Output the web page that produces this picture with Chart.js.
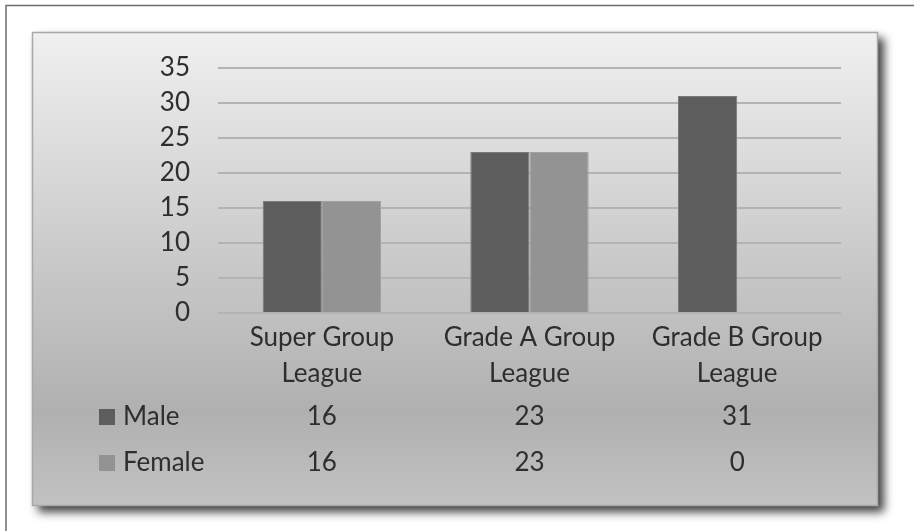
<!DOCTYPE html>
<html>
<head>
<meta charset="utf-8">
<script src="https://cdn.jsdelivr.net/npm/chart.js@4.4.1/dist/chart.umd.min.js"></script>
<style>
  html, body { margin: 0; padding: 0; background: #fff; }
  #wrap { width: 914px; height: 531px; position: relative; }
</style>
</head>
<body>
<div id="wrap"><canvas id="chart"></canvas></div>
<script>
const categories = [['Super Group', 'League'], ['Grade A Group', 'League'], ['Grade B Group', 'League']];
const seriesNames = ['Male', 'Female'];
const maleValues = [16, 23, 31];
const femaleValues = [16, 23, 0];
const yTicks = [0, 5, 10, 15, 20, 25, 30, 35];

const maleColor = '#5d5d5d';
const femaleColor = '#939393';
const textColor = '#2e2e2e';
const fontFamily = 'Lato, "Open Sans", sans-serif';

// panel, shadow and gradient behind the chart
const panelBackground = {
    id: 'panelBackground',
    beforeDraw(chart) {
        const ctx = chart.ctx;
        ctx.save();
        // outer frame (top and left only)
        ctx.strokeStyle = '#6e6e6e';
        ctx.lineWidth = 1.5;
        ctx.beginPath();
        ctx.moveTo(6, 531);
        ctx.lineTo(6, 5.5);
        ctx.lineTo(914, 5.5);
        ctx.stroke();

        const x = 32, y = 32, w = 846, h = 474;
        ctx.shadowColor = 'rgba(0,0,0,0.75)';
        ctx.shadowBlur = 9;
        ctx.shadowOffsetX = 6;
        ctx.shadowOffsetY = 6;
        const g = ctx.createLinearGradient(0, y, 0, y + h);
        g.addColorStop(0, '#f0f0f0');
        g.addColorStop(0.35, '#d4d4d4');
        g.addColorStop(0.8, '#b0b0b0');
        g.addColorStop(1, '#c2c2c2');
        ctx.fillStyle = g;
        ctx.fillRect(x, y, w, h);
        ctx.shadowColor = 'transparent';
        ctx.strokeStyle = '#a8a8a8';
        ctx.lineWidth = 1.5;
        ctx.strokeRect(x + 0.5, y + 0.5, w - 1, h - 1);
        ctx.restore();
    }
};

// data table under the category labels
const dataTable = {
    id: 'dataTable',
    afterDraw(chart) {
        const ctx = chart.ctx;
        const xs = chart.scales.x;
        const rows = [
            { name: seriesNames[0], values: maleValues, color: maleColor, y: 417 },
            { name: seriesNames[1], values: femaleValues, color: femaleColor, y: 463 }
        ];
        ctx.save();
        ctx.font = '26px ' + fontFamily;
        ctx.textBaseline = 'middle';
        rows.forEach(r => {
            ctx.fillStyle = r.color;
            ctx.fillRect(99, r.y - 8, 16, 16);
            ctx.fillStyle = textColor;
            ctx.textAlign = 'left';
            ctx.fillText(r.name, 123, r.y);
            ctx.textAlign = 'center';
            r.values.forEach((v, i) => {
                ctx.fillText(String(v), xs.getPixelForValue(i), r.y);
            });
        });
        ctx.restore();
    }
};

const data = {
    labels: categories,
    datasets: [
        {
            label: seriesNames[0],
            data: maleValues,
            backgroundColor: maleColor,
            borderColor: '#7a7a7a',
            borderWidth: 1,
        },
        {
            label: seriesNames[1],
            data: femaleValues,
            backgroundColor: femaleColor,
            borderColor: '#a2a2a2',
            borderWidth: 1,
        }
    ]
};

const config = {
    type: 'bar',
    data: data,
    options: {
        responsive: true,
        maintainAspectRatio: false,
        animation: false,
        datasets: {
            bar: {
                barPercentage: 1,
                categoryPercentage: 0.57,
            }
        },
        layout: {
            padding: { top: 68, right: 73, bottom: 0, left: 0 }
        },
        scales: {
            y: {
                min: 0,
                max: 35,
                afterBuildTicks: (s) => { s.ticks = yTicks.map(v => ({ value: v })); },
                afterFit: (s) => { s.width = 218; },
                border: { display: false },
                grid: {
                    color: '#b3b3b3',
                    lineWidth: 2,
                    drawTicks: false,
                },
                ticks: {
                    padding: 28,
                    color: textColor,
                    font: { family: fontFamily, size: 26 },
                }
            },
            x: {
                afterFit: (s) => { s.height = 531 - 313; },
                border: { display: false },
                grid: { display: false, drawTicks: false },
                ticks: {
                    padding: 6,
                    maxRotation: 0,
                    color: textColor,
                    font: { family: fontFamily, size: 26, lineHeight: 1.4 },
                }
            }
        },
        plugins: {
            legend: { display: false },
            tooltip: { enabled: false }
        }
    },
    plugins: [panelBackground, dataTable]
};

const ctx = document.getElementById('chart').getContext('2d');
const chart = new Chart(ctx, config);
</script>
</body>
</html>
